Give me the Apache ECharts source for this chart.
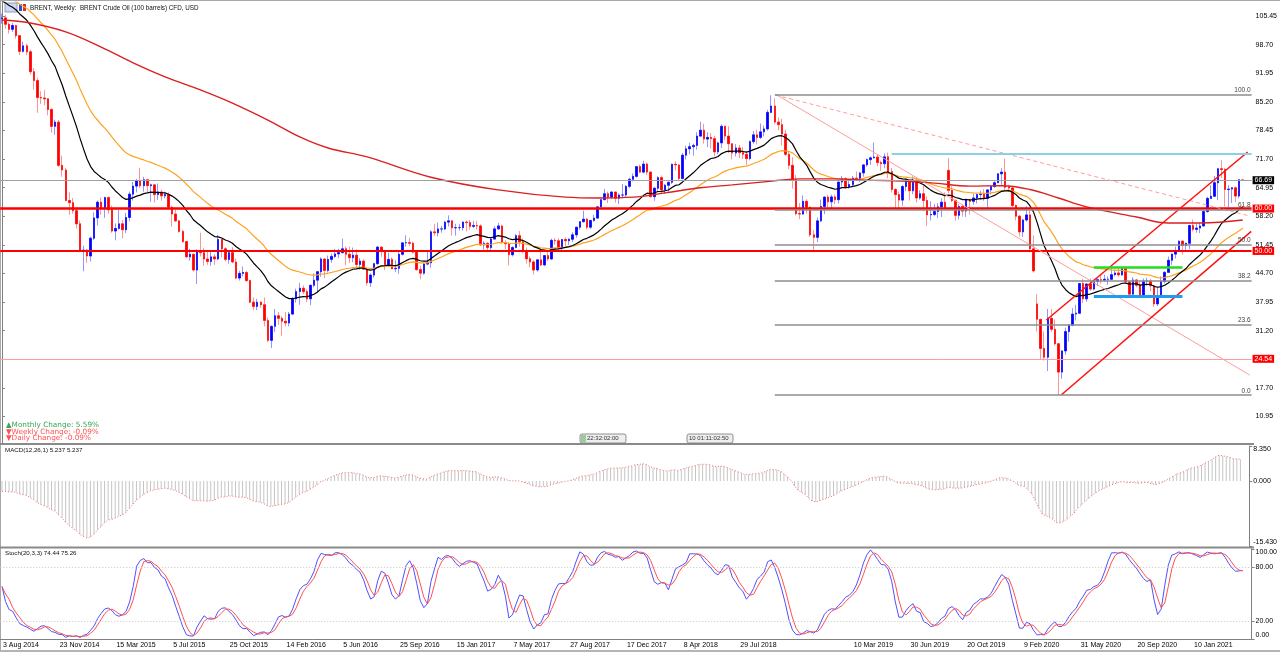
<!DOCTYPE html>
<html>
<head>
<meta charset="utf-8">
<title>BRENT, Weekly</title>
<script src="https://cdn.jsdelivr.net/npm/echarts@6/dist/echarts.min.js"></script>
<style>
  html, body { margin: 0; padding: 0; background: #fff; }
  #main { width: 1280px; height: 652px; }
</style>
</head>
<body>
<div id="main"></div>
<script>
// weekly bars, index 0 = week of 3 Aug 2014, last = week of 18 Apr 2021
var weekOpen = [
  104.8, 105.0, 103.5, 102.3, 103.2, 100.8, 97.1, 98.4, 97.0, 92.3,
  90.2, 86.2, 86.1, 85.9, 83.4, 79.4, 80.4, 70.2, 69.1, 61.9,
  61.4, 59.5, 56.4, 50.1, 50.2, 48.8, 53.0, 57.8, 61.5, 60.2,
  62.6, 59.7, 54.7, 55.3, 56.4, 55.0, 57.9, 63.4, 65.3, 66.5,
  65.4, 66.8, 65.4, 65.6, 63.3, 63.9, 63.0, 63.3, 60.3, 58.7,
  57.1, 54.6, 52.2, 48.6, 49.2, 45.5, 50.1, 49.6, 48.1, 47.5,
  48.6, 48.1, 52.7, 50.5, 48.0, 49.6, 47.4, 43.6, 44.7, 44.9,
  43.0, 37.9, 36.9, 37.9, 37.3, 33.6, 28.9, 32.2, 34.7, 34.1,
  33.4, 33.0, 35.1, 38.7, 40.4, 41.2, 40.4, 38.7, 41.9, 43.1,
  45.1, 48.1, 45.4, 48.0, 48.7, 49.3, 49.6, 50.5, 49.2, 48.4,
  49.0, 46.8, 47.6, 45.7, 42.5, 44.3, 47.0, 50.9, 49.9, 46.8,
  48.0, 45.8, 45.9, 49.2, 51.9, 51.95, 51.8, 49.7, 45.6, 44.75,
  46.9, 47.2, 54.5, 54.3, 55.2, 55.2, 56.8, 57.1, 55.45, 55.5,
  55.5, 56.8, 56.7, 55.8, 56.0, 55.9, 51.4, 51.8, 50.8, 52.8,
  55.2, 55.9, 52.0, 51.7, 49.1, 50.8, 53.6, 52.15, 49.95, 48.15,
  47.4, 45.5, 47.9, 46.7, 48.9, 48.1, 52.5, 52.4, 50.7, 52.7,
  52.4, 52.75, 53.8, 55.6, 56.9, 57.5, 55.6, 57.2, 57.75, 60.4,
  62.1, 63.5, 62.7, 63.9, 62.45, 63.2, 63.2, 65.25, 66.9, 67.6,
  69.9, 68.6, 70.5, 68.6, 62.8, 64.8, 67.3, 64.4, 65.5, 66.2,
  70.45, 70.3, 67.1, 72.6, 74.1, 74.6, 74.9, 77.1, 78.5, 76.4,
  76.8, 76.5, 73.4, 75.5, 79.4, 77.1, 75.3, 73.1, 74.3, 73.2,
  72.8, 71.8, 75.8, 77.4, 76.8, 78.1, 78.8, 82.7, 84.2, 80.4,
  79.8, 77.6, 72.8, 70.2, 66.8, 58.8, 58.7, 61.7, 60.3, 53.8,
  53.2, 57.1, 60.5, 62.7, 61.6, 62.75, 62.1, 66.25, 67.1, 65.1,
  65.7, 67.2, 67.0, 68.4, 70.3, 71.55, 71.97, 72.15, 70.85, 70.6,
  72.2, 68.7, 64.5, 63.3, 62.0, 65.2, 66.55, 64.2, 66.7, 62.5,
  63.5, 61.9, 58.5, 58.6, 59.3, 60.4, 61.5, 69.0, 64.3, 61.9,
  58.4, 60.5, 59.4, 62.0, 61.7, 62.5, 63.3, 63.4, 62.4, 64.4,
  65.2, 66.1, 68.2, 68.6, 65.0, 64.85, 60.7, 58.2, 54.5, 57.3,
  58.5, 50.5, 37.5, 33.85, 26.98, 24.93, 34.1, 31.5, 28.1, 21.4,
  26.4, 30.97, 32.5, 35.1, 35.3, 42.3, 38.7, 42.2, 41.0, 42.8,
  43.2, 43.1, 43.3, 43.3, 44.4, 44.8, 44.35, 45.8, 42.7, 39.8,
  43.15, 41.9, 39.3, 42.85, 42.9, 41.8, 37.5, 39.45, 42.8, 44.95,
  47.8, 49.25, 50.0, 52.3, 51.3, 51.8, 56.0, 55.1, 55.4, 55.9,
  59.3, 62.4, 62.9, 66.1, 69.4, 69.2, 64.5, 64.6, 64.9, 62.95,
  66.75
];
var weekHigh = [
  106.0, 105.7, 103.9, 103.8, 103.4, 101.0, 99.4, 98.9, 97.5, 93.1,
  90.9, 87.7, 88.0, 86.0, 83.6, 81.0, 80.9, 72.5, 69.6, 63.8,
  62.5, 60.3, 57.2, 51.2, 50.5, 53.4, 59.1, 61.9, 62.6, 62.8,
  62.8, 60.7, 56.5, 59.7, 57.3, 59.0, 64.0, 66.3, 67.0, 69.6,
  67.5, 67.0, 65.9, 65.8, 65.9, 64.5, 64.0, 63.8, 60.7, 59.7,
  57.3, 55.0, 52.4, 50.5, 49.4, 50.4, 54.3, 50.7, 50.0, 49.8,
  49.3, 53.8, 52.8, 50.9, 50.1, 50.9, 48.2, 45.3, 46.3, 45.3,
  43.2, 39.0, 38.7, 38.2, 39.0, 34.3, 32.4, 36.3, 35.6, 34.6,
  35.6, 35.6, 39.1, 41.1, 42.5, 41.9, 41.0, 42.0, 44.7, 45.3,
  48.5, 48.3, 48.9, 49.4, 50.5, 50.5, 52.9, 51.1, 51.0, 50.8,
  50.4, 48.3, 48.0, 46.0, 44.7, 47.2, 51.2, 51.0, 50.2, 49.6,
  48.5, 47.8, 49.8, 52.1, 53.7, 53.1, 52.2, 49.9, 46.5, 47.2,
  49.9, 54.9, 56.4, 56.7, 55.9, 57.1, 58.4, 57.3, 56.4, 56.3,
  57.0, 57.2, 57.3, 57.1, 57.1, 56.3, 52.3, 52.0, 53.2, 55.8,
  56.6, 56.2, 52.5, 52.0, 51.1, 54.0, 54.7, 52.9, 50.8, 48.7,
  47.8, 48.1, 50.0, 49.0, 50.0, 52.9, 53.0, 53.0, 52.8, 53.2,
  53.0, 54.4, 55.7, 57.0, 59.5, 57.8, 57.3, 58.5, 60.5, 62.3,
  64.65, 64.0, 64.1, 64.0, 63.6, 65.8, 65.5, 67.3, 68.3, 70.0,
  70.4, 71.3, 70.9, 68.8, 65.1, 67.6, 67.8, 65.8, 66.4, 70.6,
  71.2, 70.4, 73.1, 74.8, 75.5, 75.3, 78.0, 80.5, 80.0, 78.0,
  77.8, 77.2, 75.8, 79.9, 79.6, 79.4, 75.4, 75.2, 75.0, 74.5,
  73.5, 76.1, 78.3, 78.6, 80.1, 79.6, 83.3, 86.74, 86.0, 81.5,
  81.2, 78.6, 73.5, 72.1, 67.9, 61.3, 63.1, 62.2, 60.5, 54.9,
  57.9, 62.1, 62.9, 63.2, 63.3, 63.3, 66.4, 67.7, 67.4, 66.6,
  67.7, 68.7, 68.6, 70.4, 71.8, 72.3, 75.6, 72.8, 71.3, 73.0,
  73.2, 69.6, 64.8, 64.0, 65.6, 67.0, 66.8, 67.6, 67.4, 64.3,
  65.4, 62.9, 61.7, 61.1, 61.3, 62.4, 63.8, 71.95, 65.3, 62.2,
  61.0, 60.9, 62.4, 62.3, 63.5, 63.6, 64.2, 64.6, 64.6, 65.4,
  66.6, 68.4, 69.5, 71.75, 65.6, 65.3, 61.0, 58.5, 57.6, 60.6,
  59.6, 53.7, 39.8, 34.0, 31.0, 36.3, 36.3, 33.8, 28.2, 26.6,
  31.9, 32.6, 36.5, 37.3, 42.4, 43.4, 42.3, 43.5, 43.2, 43.5,
  44.4, 44.4, 44.0, 45.9, 45.5, 45.9, 46.2, 46.0, 42.9, 43.8,
  43.4, 42.8, 43.5, 43.7, 43.4, 41.9, 41.6, 44.0, 45.2, 48.7,
  49.4, 51.0, 52.5, 52.5, 51.9, 56.2, 57.4, 56.4, 56.6, 59.8,
  62.8, 65.5, 67.7, 69.6, 71.4, 69.6, 65.5, 65.1, 65.2, 67.0,
  66.9
];
var weekLow = [
  103.6, 102.4, 101.3, 101.7, 100.1, 96.2, 96.8, 96.2, 91.6, 88.1,
  82.6, 84.7, 84.4, 82.0, 77.9, 77.4, 69.8, 67.5, 61.7, 58.5,
  58.8, 55.3, 49.7, 45.2, 47.2, 47.5, 52.6, 56.0, 58.5, 57.8,
  58.8, 54.3, 52.5, 55.0, 53.0, 54.2, 57.0, 61.9, 63.8, 64.9,
  64.0, 63.9, 61.6, 61.4, 62.0, 61.9, 62.4, 60.0, 55.7, 56.8,
  54.3, 51.9, 48.3, 47.7, 45.1, 42.2, 48.7, 46.5, 46.7, 46.5,
  46.7, 47.8, 48.5, 47.5, 47.0, 47.1, 43.3, 43.0, 44.0, 42.7,
  37.7, 36.0, 36.0, 36.6, 32.2, 28.5, 27.1, 30.9, 32.5, 30.0,
  32.2, 32.2, 34.9, 37.8, 37.3, 39.8, 37.9, 37.2, 41.4, 40.1,
  43.9, 43.6, 44.9, 47.2, 48.3, 48.3, 49.4, 46.6, 47.2, 47.3,
  45.9, 45.6, 45.5, 41.8, 41.5, 43.7, 46.7, 48.6, 45.5, 46.3,
  45.7, 45.0, 44.6, 48.9, 51.0, 51.1, 49.4, 45.3, 43.3, 44.4,
  46.6, 46.0, 53.6, 53.4, 54.3, 54.9, 55.8, 53.6, 53.6, 54.8,
  54.8, 54.6, 55.0, 55.4, 55.0, 51.2, 50.3, 49.7, 50.0, 52.7,
  55.0, 51.7, 50.4, 46.6, 48.7, 50.6, 51.0, 49.4, 47.0, 46.2,
  44.4, 45.1, 46.4, 46.4, 47.6, 47.9, 51.4, 50.4, 50.2, 51.0,
  51.4, 52.1, 53.1, 55.0, 56.7, 55.1, 55.2, 56.9, 57.6, 60.2,
  62.0, 61.3, 62.2, 61.4, 61.1, 62.4, 62.8, 64.8, 66.4, 67.3,
  68.4, 68.3, 67.9, 62.6, 61.8, 64.2, 63.4, 63.4, 64.0, 65.8,
  69.0, 66.6, 66.9, 71.6, 72.8, 72.5, 73.9, 77.0, 75.3, 74.5,
  74.2, 72.4, 72.8, 74.3, 76.1, 73.1, 71.6, 72.3, 71.9, 71.7,
  70.3, 71.4, 75.3, 75.1, 76.4, 77.0, 78.4, 82.5, 79.9, 78.5,
  74.9, 72.4, 69.3, 64.7, 58.4, 57.5, 58.5, 58.8, 53.3, 50.0,
  52.1, 56.8, 58.7, 60.0, 59.8, 61.0, 61.2, 65.2, 64.6, 64.7,
  65.0, 66.6, 66.2, 67.5, 69.9, 70.3, 71.8, 70.0, 68.9, 69.5,
  67.2, 63.8, 60.0, 59.5, 60.7, 64.1, 61.9, 63.4, 61.4, 62.1,
  59.5, 55.9, 57.2, 58.2, 57.8, 58.0, 59.8, 63.6, 61.5, 57.1,
  57.4, 58.1, 58.0, 58.6, 60.9, 61.2, 62.0, 61.8, 60.1, 63.3,
  64.9, 66.0, 65.6, 64.3, 63.9, 60.4, 57.2, 53.4, 53.3, 56.9,
  49.7, 44.9, 31.0, 24.5, 24.1, 21.65, 30.9, 27.7, 15.98, 19.8,
  25.5, 28.6, 32.2, 33.6, 35.2, 37.7, 38.0, 40.6, 40.7, 41.7,
  42.3, 42.8, 42.0, 43.1, 44.0, 43.9, 44.1, 42.6, 39.4, 39.4,
  41.4, 38.9, 39.2, 41.8, 40.5, 36.8, 37.0, 39.3, 42.3, 44.8,
  46.7, 48.2, 49.8, 49.1, 50.2, 50.4, 54.6, 54.3, 54.2, 55.7,
  59.0, 62.3, 62.8, 62.0, 67.2, 60.5, 60.3, 61.3, 61.5, 62.4,
  66.5
];
var weekClose = [
  105.0, 103.5, 102.3, 103.2, 100.8, 97.1, 98.4, 97.0, 92.3, 90.2,
  86.2, 86.1, 85.9, 83.4, 79.4, 80.4, 70.2, 69.1, 61.9, 61.4,
  59.5, 56.4, 50.1, 50.2, 48.8, 53.0, 57.8, 61.5, 60.2, 62.6,
  59.7, 54.7, 55.3, 56.4, 55.0, 57.9, 63.4, 65.3, 66.5, 65.4,
  66.8, 65.4, 65.6, 63.3, 63.9, 63.0, 63.3, 60.3, 58.7, 57.1,
  54.6, 52.2, 48.6, 49.2, 45.5, 50.1, 49.6, 48.1, 47.5, 48.6,
  48.1, 52.7, 50.5, 48.0, 49.6, 47.4, 43.6, 44.7, 44.9, 43.0,
  37.9, 36.9, 37.9, 37.3, 33.6, 28.9, 32.2, 34.7, 34.1, 33.4,
  33.0, 35.1, 38.7, 40.4, 41.2, 40.4, 38.7, 41.9, 43.1, 45.1,
  48.1, 45.4, 48.0, 48.7, 49.3, 49.6, 50.5, 49.2, 48.4, 49.0,
  46.8, 47.6, 45.7, 42.5, 44.3, 47.0, 50.9, 49.9, 46.8, 48.0,
  45.8, 45.9, 49.2, 51.9, 51.95, 51.8, 49.7, 45.6, 44.75, 46.9,
  47.2, 54.5, 54.3, 55.2, 55.2, 56.8, 57.1, 55.45, 55.5, 55.5,
  56.8, 56.7, 55.8, 56.0, 55.9, 51.4, 51.8, 50.8, 52.8, 55.2,
  55.9, 52.0, 51.7, 49.1, 50.8, 53.6, 52.15, 49.95, 48.15, 47.4,
  45.5, 47.9, 46.7, 48.9, 48.1, 52.5, 52.4, 50.7, 52.7, 52.4,
  52.75, 53.8, 55.6, 56.9, 57.5, 55.6, 57.2, 57.75, 60.4, 62.1,
  63.5, 62.7, 63.9, 62.45, 63.2, 63.2, 65.25, 66.9, 67.6, 69.9,
  68.6, 70.5, 68.6, 62.8, 64.8, 67.3, 64.4, 65.5, 66.2, 70.45,
  70.3, 67.1, 72.6, 74.1, 74.6, 74.9, 77.1, 78.5, 76.4, 76.8,
  76.5, 73.4, 75.5, 79.4, 77.1, 75.3, 73.1, 74.3, 73.2, 72.8,
  71.8, 75.8, 77.4, 76.8, 78.1, 78.8, 82.7, 84.2, 80.4, 79.8,
  77.6, 72.8, 70.2, 66.8, 58.8, 58.7, 61.7, 60.3, 53.8, 53.2,
  57.1, 60.5, 62.7, 61.6, 62.75, 62.1, 66.25, 67.1, 65.1, 65.7,
  67.2, 67.0, 68.4, 70.3, 71.55, 71.97, 72.15, 70.85, 70.6, 72.2,
  68.7, 64.5, 63.3, 62.0, 65.2, 66.55, 64.2, 66.7, 62.5, 63.5,
  61.9, 58.5, 58.6, 59.3, 60.4, 61.5, 60.2, 64.3, 61.9, 58.4,
  60.5, 59.4, 62.0, 61.7, 62.5, 63.3, 63.4, 62.4, 64.4, 65.2,
  66.1, 68.2, 68.6, 65.0, 64.85, 60.7, 58.2, 54.5, 57.3, 58.5,
  50.5, 45.3, 33.85, 26.98, 24.93, 34.1, 31.5, 28.1, 21.4, 26.4,
  30.97, 32.5, 35.1, 35.3, 42.3, 38.7, 42.2, 41.0, 42.8, 43.2,
  43.1, 43.3, 43.3, 44.4, 44.8, 44.35, 45.8, 42.7, 39.8, 43.15,
  41.9, 39.3, 42.85, 42.9, 41.8, 37.5, 39.45, 42.8, 44.95, 47.8,
  49.25, 50.0, 52.3, 51.3, 51.8, 56.0, 55.1, 55.4, 55.9, 59.3,
  62.4, 62.9, 66.1, 69.4, 69.2, 64.5, 64.6, 64.9, 62.95, 66.8,
  66.69
];

// date labels, one every 16 weeks from 3 Aug 2014 (18 Nov 2018 is not printed)
var dateTicks = ['3 Aug 2014', '23 Nov 2014', '15 Mar 2015', '5 Jul 2015', '25 Oct 2015',
  '14 Feb 2016', '5 Jun 2016', '25 Sep 2016', '15 Jan 2017', '7 May 2017', '27 Aug 2017',
  '17 Dec 2017', '8 Apr 2018', '29 Jul 2018', '', '10 Mar 2019', '30 Jun 2019',
  '20 Oct 2019', '9 Feb 2020', '31 May 2020', '20 Sep 2020', '10 Jan 2021'];
var priceTicks = [10.95, 17.70, 24.45, 31.20, 37.95, 44.70, 51.45, 58.20, 64.95, 71.70,
  78.45, 85.20, 91.95, 98.70, 105.45];
var macdTicks = [-15.43, 0, 8.35];
var stochTicks = [0, 20, 80, 100];

// slow red moving average at a few weeks
var slowMaIdx = [0, 8, 18, 28, 37, 46, 56, 65, 75, 84, 92, 103, 121, 140, 159, 168, 178,
  187, 197, 206, 215, 225, 235, 244, 254, 263, 273, 282, 290, 298, 306, 320, 329, 338, 350];
var slowMaVal = [104.5, 103.8, 101.7, 98.1, 94.4, 91.1, 88.0, 84.9, 80.9, 76.9, 74.3, 72.2,
  67.4, 64.4, 62.7, 62.5, 62.7, 63.7, 64.9, 65.6, 66.3, 67.0, 67.0, 66.7, 66.5, 66.0, 65.3,
  65.4, 64.5, 62.5, 60.4, 58.0, 56.6, 56.6, 57.3];

// moving average values at the first bar
var fastSeed = 109.5, midSeed = 110.5;
var macdSeed12 = 106.5, macdSeed26 = 109.0;

// horizontal levels with price boxes
var levelPrices = [66.69, 60.00, 50.00, 24.54];

// drawn objects: [week index, price]
var topTrend = [[85.9, 108.76], [352.4, 82.3]];
var fibHigh = [218, 86.9], fibLow = [298, 15.95];
var fibLevels = [0, 23.6, 38.2, 50, 61.8, 100];
var fanSolid = [[218.2, 87.0], [352.0, 20.7]];
var fanDashed = [[218.2, 86.8], [352.0, 58.25]];
var channelLow = [[298.8, 15.99], [352.4, 54.6]];
var channelHigh = [[294.6, 33.7], [351.4, 73.35]];
var resistLine = [[251.0, 72.9], [352.5, 72.9]];
var boxTop = [[308.0, 46.15], [333.0, 46.15]];
var boxBottom = [[308.0, 39.2], [333.0, 39.2]];

// ---------------------------------------------------------------
var barCount = weekClose.length;
var slotCount = barCount + 2;          // a little empty space after the last bar
var weekSlots = [];
for (var s = 0; s < slotCount; s++) weekSlots.push(String(s));

function ema(src, period, seed) {
  var k = 2 / (period + 1), prev = seed, out = [];
  for (var i = 0; i < src.length; i++) {
    prev = prev + k * (src[i] - prev);
    out.push(+prev.toFixed(3));
  }
  return out;
}

var emaFast = ema(weekClose, 20, fastSeed);
var emaMid = ema(weekClose, 40, midSeed);
var ema12 = ema(weekClose, 12, macdSeed12);
var ema26 = ema(weekClose, 26, macdSeed26);
var macdMain = ema12.map(function (v, i) { return +(v - ema26[i]).toFixed(3); });

// stochastic 20,3,3
var stochMain = [], stochSignal = [], num = [], den = [];
for (var i = 0; i < barCount; i++) {
  var lo = Infinity, hi = -Infinity;
  for (var j = Math.max(0, i - 19); j <= i; j++) {
    lo = Math.min(lo, weekLow[j]);
    hi = Math.max(hi, weekHigh[j]);
  }
  num.push(weekClose[i] - lo);
  den.push(hi - lo);
  var sn = 0, sd = 0;
  for (j = Math.max(0, i - 2); j <= i; j++) { sn += num[j]; sd += den[j]; }
  stochMain.push(sd > 0 ? +(100 * sn / sd).toFixed(2) : 50);
  var sm = 0, c = 0;
  for (j = Math.max(0, i - 2); j <= i; j++) { sm += stochMain[j]; c++; }
  stochSignal.push(+(sm / c).toFixed(2));
}

var wickData = [], bodyData = [];
for (i = 0; i < barCount; i++) {
  wickData.push([weekOpen[i], weekClose[i], weekLow[i], weekHigh[i]]);
  bodyData.push([weekOpen[i], weekClose[i],
    Math.min(weekOpen[i], weekClose[i]), Math.max(weekOpen[i], weekClose[i])]);
}
var slowMaData = slowMaIdx.map(function (x, k) { return [x, slowMaVal[k]]; });

// ---------------------------------------------------------------
var FONT = 'Liberation Sans';
var GRID_LEFT = 0.2, GRID_W = 1253.5;

function segment(pts, color, width, type) {
  return [
    { coord: pts[0], lineStyle: { color: color, width: width, type: type || 'solid' }, label: { show: false } },
    { coord: pts[1] }
  ];
}

var objectLines = [
  segment(topTrend, '#e01010', 1.5),
  segment(fanSolid, '#ff9c9c', 1),
  segment(fanDashed, '#ff9c9c', 1, [4, 3]),
  segment(channelLow, '#ff1010', 1.5),
  segment(channelHigh, '#ff1010', 1.5),
  segment(resistLine, '#8ccfe8', 2),
  segment(boxTop, '#22dd22', 2.5),
  segment(boxBottom, '#1e9cf0', 3)
];
fibLevels.forEach(function (lv) {
  var p = +(fibLow[1] + (fibHigh[1] - fibLow[1]) * lv / 100).toFixed(2);
  objectLines.push([
    { coord: [fibHigh[0], p], lineStyle: { color: '#8c8c8c', width: 1.5, type: 'solid' },
      label: { show: true, position: 'insideEndTop', distance: 1, formatter: lv.toFixed(1),
        color: '#404040', fontSize: 6.5, fontFamily: FONT } },
    { coord: [slotCount - 0.5, p] }
  ]);
});

var levelStyles = [
  { line: '#a0a0a0', width: 1, box: '#000000' },
  { line: '#ff0000', width: 2.5, box: '#ff0000' },
  { line: '#ff0000', width: 2, box: '#ff0000' },
  { line: '#ff9c9c', width: 1, box: '#ff0000' }
];
var levelMarks = levelPrices.map(function (p, k) {
  return {
    yAxis: p,
    lineStyle: { color: levelStyles[k].line, width: levelStyles[k].width, type: 'solid' },
    label: { show: true, position: 'end', distance: 1, formatter: p.toFixed(2),
      color: '#fff', backgroundColor: levelStyles[k].box, padding: [1, 2, 0, 2],
      fontSize: 7, fontFamily: FONT }
  };
});

function rightAxis(gridIndex, min, max, ticks, digits, edgeAlign) {
  var ax = {
    type: 'value', gridIndex: gridIndex, position: 'right', min: min, max: max,
    axisLine: { show: true, lineStyle: { color: '#808080', width: 1 } },
    axisTick: { show: true, length: 3, customValues: ticks, lineStyle: { color: '#808080' } },
    splitLine: { show: false },
    axisLabel: { customValues: ticks, margin: 4, color: '#000', fontSize: 7, fontFamily: FONT,
      formatter: function (v) { return Number(v).toFixed(digits); } }
  };
  if (edgeAlign) {
    ax.axisLabel.verticalAlignMaxLabel = 'top';
    ax.axisLabel.verticalAlignMinLabel = 'bottom';
  }
  return ax;
}

function showTick(index) { return index % 16 === 0; }

var chart = echarts.init(document.getElementById('main'));
var option = {
  animation: false,
  backgroundColor: '#ffffff',
  grid: [
    { left: GRID_LEFT, width: GRID_W, top: 2, height: 441 },
    { left: GRID_LEFT, width: GRID_W, top: 446, height: 100 },
    { left: GRID_LEFT, width: GRID_W, top: 549, height: 90 }
  ],
  xAxis: [
    { type: 'category', gridIndex: 0, data: weekSlots, show: false },
    { type: 'category', gridIndex: 1, data: weekSlots, show: false },
    {
      type: 'category', gridIndex: 2, data: weekSlots,
      axisLine: { onZero: false, lineStyle: { color: '#808080' } },
      axisTick: { alignWithLabel: true, interval: showTick, length: 3, lineStyle: { color: '#808080' } },
      axisLabel: {
        interval: showTick, align: 'left', margin: 3, padding: [0, 0, 0, 1],
        color: '#000', fontSize: 7, fontFamily: FONT,
        formatter: function (value, index) { return index % 16 === 0 ? (dateTicks[index / 16] || '') : ''; }
      },
      splitLine: { show: false }
    },
    { type: 'value', gridIndex: 0, min: -0.5, max: slotCount - 0.5, show: false }
  ],
  yAxis: [
    rightAxis(0, 4.67, 108.75, priceTicks, 2, false),
    rightAxis(1, -15.43, 8.35, macdTicks, 3, true),
    rightAxis(2, 0, 100, stochTicks, 2, true)
  ],
  series: [
    {
      name: 'wicks', type: 'candlestick', xAxisIndex: 0, yAxisIndex: 0, data: wickData,
      barWidth: 2, silent: true,
      itemStyle: { color: '#9494ff', color0: '#ff9494', borderColor: '#9494ff', borderColor0: '#ff9494', borderWidth: 1 }
    },
    {
      name: 'BRENT', type: 'candlestick', xAxisIndex: 0, yAxisIndex: 0, data: bodyData,
      barWidth: 2, silent: true,
      itemStyle: { color: '#0000ff', color0: '#ff0000', borderColor: '#0000ff', borderColor0: '#ff0000', borderWidth: 0.6 },
      markLine: { symbol: ['none', 'none'], silent: true, animation: false, data: levelMarks }
    },
    {
      name: 'EMA 40', type: 'line', xAxisIndex: 0, yAxisIndex: 0, data: emaMid,
      symbol: 'none', silent: true, lineStyle: { color: '#ffa21f', width: 1.2 }
    },
    {
      name: 'EMA 20', type: 'line', xAxisIndex: 0, yAxisIndex: 0, data: emaFast,
      symbol: 'none', silent: true, lineStyle: { color: '#000000', width: 1.2 }
    },
    {
      name: 'slow MA', type: 'line', xAxisIndex: 3, yAxisIndex: 0, data: slowMaData,
      symbol: 'none', smooth: 0.4, silent: true, lineStyle: { color: '#dc2020', width: 1.4 }
    },
    {
      name: 'objects', type: 'line', xAxisIndex: 3, yAxisIndex: 0, data: [],
      symbol: 'none', silent: true,
      markLine: { symbol: ['none', 'none'], silent: true, animation: false, data: objectLines }
    },
    {
      name: 'MACD', type: 'bar', xAxisIndex: 1, yAxisIndex: 1, data: macdMain,
      barWidth: 1, silent: true, itemStyle: { color: '#c4c4c4' }
    },
    {
      name: 'Signal', type: 'line', xAxisIndex: 1, yAxisIndex: 1, data: macdMain,
      symbol: 'none', silent: true, lineStyle: { color: '#ff6a6a', width: 1, type: [1, 2] }
    },
    {
      name: 'Stoch main', type: 'line', xAxisIndex: 2, yAxisIndex: 2, data: stochMain,
      symbol: 'none', silent: true, lineStyle: { color: '#5050ff', width: 1 },
      markLine: {
        symbol: ['none', 'none'], silent: true, animation: false, label: { show: false },
        lineStyle: { color: '#c8c8c8', width: 1, type: [1, 2] },
        data: [{ yAxis: 20 }, { yAxis: 80 }]
      }
    },
    {
      name: 'Stoch signal', type: 'line', xAxisIndex: 2, yAxisIndex: 2, data: stochSignal,
      symbol: 'none', silent: true, lineStyle: { color: '#ff5050', width: 1 }
    }
  ],
  graphic: {
    elements: [
      { type: 'line', shape: { x1: 0.5, y1: 0, x2: 0.5, y2: 652 }, style: { stroke: '#a8a8a8', lineWidth: 1 } },
      { type: 'line', shape: { x1: 0, y1: 0.5, x2: 1280, y2: 0.5 }, style: { stroke: '#a8a8a8', lineWidth: 1 } },
      { type: 'rect', shape: { x: 0, y: 443, width: 1254, height: 2 }, style: { fill: '#8a8a8a' } },
      { type: 'rect', shape: { x: 0, y: 546.5, width: 1254, height: 2 }, style: { fill: '#8a8a8a' } },
      { type: 'rect', shape: { x: 0, y: 650, width: 1280, height: 2 }, style: { fill: '#b4b4b4' } },
      { type: 'rect', shape: { x: 5, y: 3, width: 12, height: 9 }, style: { fill: '#cfd8ee', stroke: '#8a9ccc', lineWidth: 1 } },
      { type: 'rect', shape: { x: 19, y: 4, width: 3, height: 7 }, style: { fill: '#3050d0' } },
      { type: 'rect', shape: { x: 23, y: 4, width: 3, height: 7 }, style: { fill: '#d03030' } },
      { type: 'text', x: 30, y: 8, style: { text: 'BRENT, Weekly:  BRENT Crude Oil (100 barrels) CFD, USD',
        fill: '#111', font: '6.3px "Liberation Sans"', verticalAlign: 'middle' } },
      { type: 'text', x: 6, y: 425, style: { text: '▲Monthly Change: 5.59%', fill: '#3aa655',
        font: '7.3px "DejaVu Sans"', verticalAlign: 'middle' } },
      { type: 'text', x: 6, y: 432, style: { text: '▼Weekly Change: -0.09%', fill: '#ff5252',
        font: '7.3px "DejaVu Sans"', verticalAlign: 'middle' } },
      { type: 'text', x: 6, y: 438.5, style: { text: '▼Daily Change: -0.09%', fill: '#ff5252',
        font: '7.3px "DejaVu Sans"', verticalAlign: 'middle' } },
      { type: 'text', x: 5, y: 450.5, style: { text: 'MACD(12,26,1) 5.237 5.237', fill: '#111',
        font: '6.2px "Liberation Sans"', verticalAlign: 'middle' } },
      { type: 'text', x: 5, y: 553.5, style: { text: 'Stoch(20,3,3) 74.44 75.26', fill: '#111',
        font: '6.2px "Liberation Sans"', verticalAlign: 'middle' } },
      {
        type: 'group', x: 580, y: 434,
        children: [
          { type: 'rect', shape: { x: 0, y: 0, width: 46, height: 9, r: 2 }, style: { fill: '#eeeeee', stroke: '#777', lineWidth: 0.8 } },
          { type: 'rect', shape: { x: 1, y: 1, width: 5, height: 7 }, style: { fill: '#9cc9a0' } },
          { type: 'text', x: 7, y: 4.8, style: { text: '22:32:02:00', fill: '#333', font: '6px "Liberation Sans"', verticalAlign: 'middle' } }
        ]
      },
      {
        type: 'group', x: 687, y: 434,
        children: [
          { type: 'rect', shape: { x: 0, y: 0, width: 46, height: 9, r: 2 }, style: { fill: '#eeeeee', stroke: '#777', lineWidth: 0.8 } },
          { type: 'text', x: 2, y: 4.8, style: { text: '10 01:11:02:50', fill: '#333', font: '6px "Liberation Sans"', verticalAlign: 'middle' } }
        ]
      }
    ]
  }
};
chart.setOption(option);
</script>
</body>
</html>
